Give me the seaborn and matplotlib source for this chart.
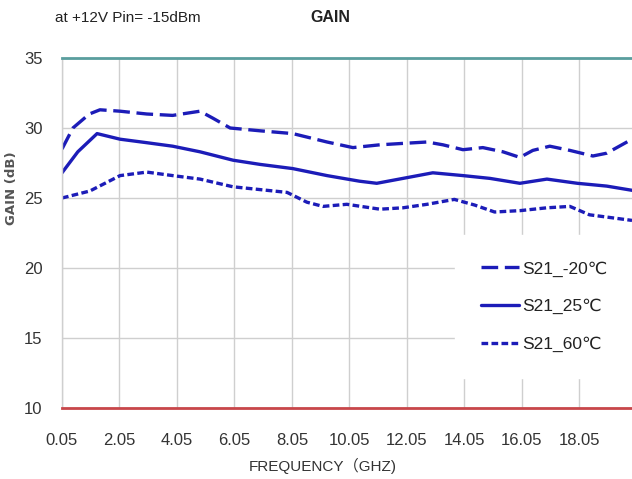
import numpy as np
import pandas as pd
import matplotlib
matplotlib.use("Agg")
import matplotlib.pyplot as plt
import seaborn as sns

# ---- data ----
freq_m20 = [0.05, 0.43, 1.0, 1.37, 2.07, 3.0, 3.9, 4.85, 5.3, 5.9, 6.94, 8.08, 9.27,
            10.17, 11.11, 11.91, 12.75, 13.3, 14.0, 14.69, 15.39, 15.98, 16.43, 17.02,
            17.72, 18.52, 19.0, 19.88]
gain_m20 = [28.5, 30.0, 31.0, 31.3, 31.2, 31.0, 30.9, 31.2, 30.7, 30.0, 29.8, 29.6, 29.0,
            28.6, 28.8, 28.9, 29.0, 28.8, 28.45, 28.6, 28.3, 27.9, 28.4, 28.7,
            28.4, 28.0, 28.2, 29.2]

freq_25 = [0.05, 0.6, 1.27, 2.07, 3.0, 3.9, 4.85, 6.0, 6.94, 8.08, 9.27, 10.4, 11.0,
           11.91, 12.95, 14.0, 14.94, 15.98, 16.92, 17.98, 19.0, 19.88]
gain_25 = [26.8, 28.3, 29.6, 29.2, 28.95, 28.7, 28.3, 27.7, 27.4, 27.1, 26.6, 26.2, 26.05,
           26.4, 26.8, 26.6, 26.4, 26.05, 26.35, 26.05, 25.85, 25.55]

freq_60 = [0.05, 1.02, 2.07, 3.0, 3.9, 4.85, 6.0, 6.94, 7.88, 8.57, 9.13, 9.96, 11.11,
           11.91, 12.75, 13.7, 14.4, 15.1, 16.0, 16.92, 17.72, 18.4, 19.88]
gain_60 = [25.0, 25.5, 26.6, 26.85, 26.6, 26.35, 25.8, 25.6, 25.4, 24.7, 24.4, 24.55, 24.2,
           24.3, 24.55, 24.9, 24.5, 24.0, 24.1, 24.3, 24.4, 23.8, 23.4]

series_labels = ["S21_-20℃", "S21_25℃", "S21_60℃"]
x_ticks = [0.05, 2.05, 4.05, 6.05, 8.05, 10.05, 12.05, 14.05, 16.05, 18.05]
y_ticks = [10, 15, 20, 25, 30, 35]

df = pd.concat([
    pd.DataFrame({"freq": freq_m20, "gain": gain_m20, "series": series_labels[0]}),
    pd.DataFrame({"freq": freq_25, "gain": gain_25, "series": series_labels[1]}),
    pd.DataFrame({"freq": freq_60, "gain": gain_60, "series": series_labels[2]}),
], ignore_index=True)

sns.set_theme(style="white")
plt.rcParams["font.family"] = ["Liberation Sans", "DejaVu Sans", "Noto Sans CJK SC"]

W, H = 632, 479
fig = plt.figure(figsize=(W / 100, H / 100), dpi=100)
ax = fig.add_axes([62 / W, 1 - 408 / H, (W - 62) / W, (408 - 58) / H])

blue = "#1c1cb8"
sns.lineplot(data=df, x="freq", y="gain", hue="series", style="series",
             palette={s: blue for s in series_labels},
             dashes={series_labels[0]: (5, 2), series_labels[1]: "", series_labels[2]: (2, 1)},
             sort=False, linewidth=2.4, ax=ax, legend=True)

ax.set_xlim(0.05, 19.88)
ax.set_ylim(10, 35)
ax.set_xticks(x_ticks)
ax.set_xticklabels([f"{t:.2f}" for t in x_ticks])
ax.set_yticks(y_ticks)
ax.grid(True, color="#cfcfcf", linewidth=1.0)
ax.set_axisbelow(True)

ax.spines["right"].set_visible(False)
ax.spines["left"].set_color("#cfcfcf")
ax.spines["left"].set_linewidth(1.0)
ax.spines["top"].set_color("#5a9e9e")
ax.spines["top"].set_linewidth(2.0)
ax.spines["bottom"].set_color("#c8464a")
ax.spines["bottom"].set_linewidth(2.0)

ax.tick_params(axis="x", direction="in", length=4, color="#c8464a", pad=18, labelsize=12,
               labelcolor="#333333")
ax.tick_params(axis="y", length=0, pad=14, labelsize=12, labelcolor="#333333")

ax.set_xlabel("")
ax.set_ylabel("")
fig.text(323 / W, 1 - 466 / H, "FREQUENCY（GHZ)", ha="center", va="center",
         fontsize=11, color="#333333",
         family=["Liberation Sans", "Noto Sans CJK SC"])
fig.text(12 / W, 1 - 188 / H, "GAIN (dB)", rotation=90, ha="center", va="center",
         fontsize=9.5, fontweight="bold", color="#555555", family="DejaVu Sans")

fig.text(55 / W, 1 - 18 / H, "at +12V Pin= -15dBm", ha="left", va="center",
         fontsize=11, color="#222222")
fig.text(310 / W, 1 - 18 / H, "GAIN", ha="left", va="center",
         fontsize=11.5, fontweight="bold", color="#222222")

handles, labels = ax.get_legend_handles_labels()
leg = ax.legend(handles, labels, loc="upper left",
                bbox_to_anchor=(455 / W, 1 - 235 / H), bbox_transform=fig.transFigure,
                borderaxespad=0, borderpad=1.5, frameon=True, fancybox=False,
                facecolor="white", edgecolor="white", framealpha=1.0,
                handlelength=2.2, handletextpad=0.15, labelspacing=1.27,
                prop={"family": ["Liberation Sans", "DejaVu Sans", "Noto Sans CJK SC"], "size": 12.5})
for t in leg.get_texts():
    t.set_color("#222222")

fig.savefig("out.png", dpi=100)
